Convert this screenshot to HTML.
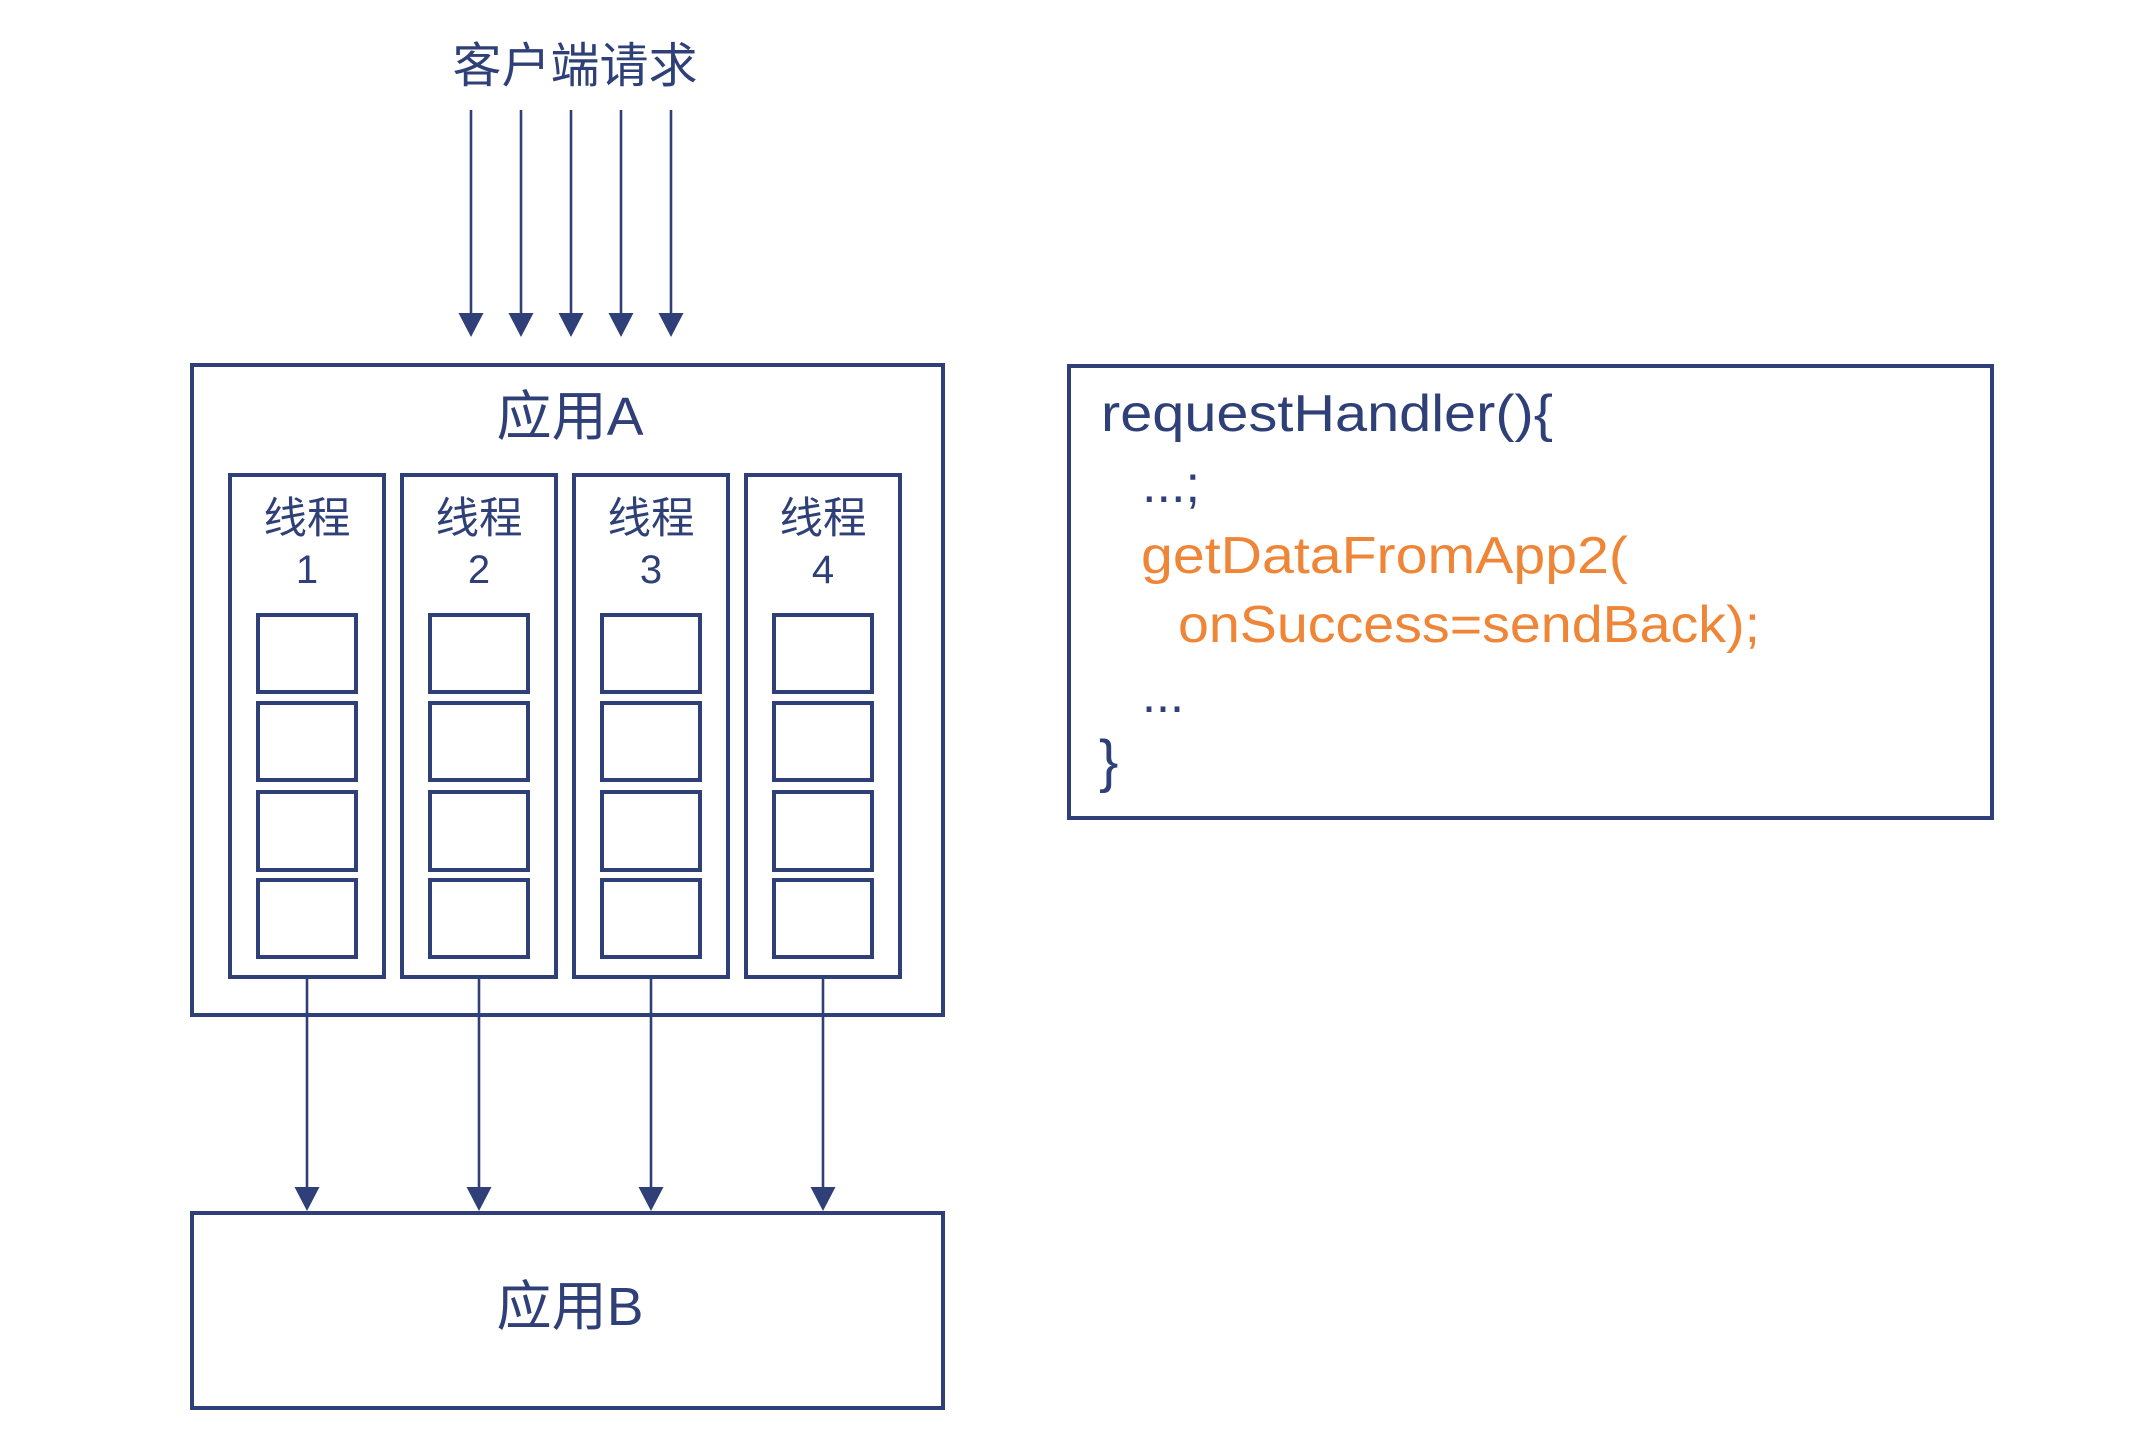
<!DOCTYPE html>
<html><head><meta charset="utf-8"><style>
html,body{margin:0;padding:0;background:#fff;}
svg{display:block;}
text{font-family:"Liberation Sans","Noto Sans CJK SC",sans-serif;fill:#2e4077;}
</style></head><body>
<svg width="2156" height="1451" viewBox="0 0 2156 1451" xmlns="http://www.w3.org/2000/svg">
<defs>
<marker id="ah" markerWidth="25" markerHeight="25" viewBox="0 0 25 25" refX="12.5" refY="24" orient="auto" markerUnits="userSpaceOnUse">
</marker>
</defs>
<text x="575" y="82" font-size="48" text-anchor="middle" textLength="245" lengthAdjust="spacingAndGlyphs">客户端请求</text>
<g stroke="#2e4077" stroke-width="2.6">
<line x1="471" y1="110" x2="471" y2="315"/>
<line x1="521" y1="110" x2="521" y2="315"/>
<line x1="571" y1="110" x2="571" y2="315"/>
<line x1="621" y1="110" x2="621" y2="315"/>
<line x1="671" y1="110" x2="671" y2="315"/>
<line x1="307" y1="977" x2="307" y2="1190"/>
<line x1="479" y1="977" x2="479" y2="1190"/>
<line x1="651" y1="977" x2="651" y2="1190"/>
<line x1="823" y1="977" x2="823" y2="1190"/>
</g>
<g fill="#2e4077">
<polygon points="458.5,313 483.5,313 471,337"/>
<polygon points="508.5,313 533.5,313 521,337"/>
<polygon points="558.5,313 583.5,313 571,337"/>
<polygon points="608.5,313 633.5,313 621,337"/>
<polygon points="658.5,313 683.5,313 671,337"/>
<polygon points="294.5,1187 319.5,1187 307,1211"/>
<polygon points="466.5,1187 491.5,1187 479,1211"/>
<polygon points="638.5,1187 663.5,1187 651,1211"/>
<polygon points="810.5,1187 835.5,1187 823,1211"/>
</g>
<g fill="none" stroke="#2e4077" stroke-width="4">
<rect x="192" y="365" width="751" height="650"/>
<rect x="192" y="1213" width="751" height="195"/>
<rect x="1069" y="366" width="923" height="452"/>
<rect x="230" y="475" width="154" height="502"/>
<rect x="402" y="475" width="154" height="502"/>
<rect x="574" y="475" width="154" height="502"/>
<rect x="746" y="475" width="154" height="502"/>
<g id="cells">
<rect x="258" y="615" width="98" height="77"/>
<rect x="258" y="703" width="98" height="77"/>
<rect x="258" y="792" width="98" height="78"/>
<rect x="258" y="880" width="98" height="77"/>
</g>
<use href="#cells" x="172"/>
<use href="#cells" x="344"/>
<use href="#cells" x="516"/>
</g>
<text x="570" y="435" font-size="54" text-anchor="middle" textLength="147" lengthAdjust="spacingAndGlyphs">应用A</text>
<text x="570" y="1325" font-size="54" text-anchor="middle" textLength="147" lengthAdjust="spacingAndGlyphs">应用B</text>
<g font-size="43" text-anchor="middle">
<text x="307" y="533" textLength="87" lengthAdjust="spacingAndGlyphs">线程</text>
<text x="479" y="533" textLength="87" lengthAdjust="spacingAndGlyphs">线程</text>
<text x="651" y="533" textLength="87" lengthAdjust="spacingAndGlyphs">线程</text>
<text x="823" y="533" textLength="87" lengthAdjust="spacingAndGlyphs">线程</text>
<text x="307" y="583" font-size="40">1</text>
<text x="479" y="583" font-size="40">2</text>
<text x="651" y="583" font-size="40">3</text>
<text x="823" y="583" font-size="40">4</text>
</g>
<g font-size="52">
<text x="1101" y="431" textLength="452" lengthAdjust="spacingAndGlyphs">requestHandler(){</text>
<text x="1142" y="502" textLength="58" lengthAdjust="spacingAndGlyphs">...;</text>
<text x="1141" y="573" textLength="487" lengthAdjust="spacingAndGlyphs" style="fill:#ef8537">getDataFromApp2(</text>
<text x="1178" y="642" textLength="582" lengthAdjust="spacingAndGlyphs" style="fill:#ef8537">onSuccess=sendBack);</text>
<text x="1142" y="712" textLength="42" lengthAdjust="spacingAndGlyphs">...</text>
<text x="1099" y="781" font-size="58">}</text>
</g>
</svg>
</body></html>
